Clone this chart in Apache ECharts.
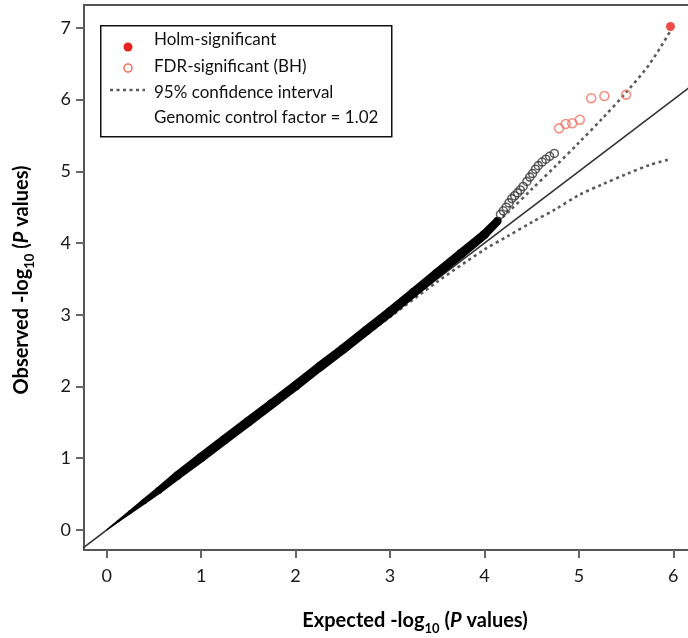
<!DOCTYPE html>
<html>
<head>
<meta charset="utf-8">
<script src="https://cdn.jsdelivr.net/npm/echarts@6/dist/echarts.min.js"></script>
<style>
  html, body { margin: 0; padding: 0; background: #fff; }
  #chart { width: 688px; height: 638px; }
</style>
</head>
<body>
<div id="chart"></div>
<script>
// Tick positions on both axes
const xTicks = [0, 1, 2, 3, 4, 5, 6];
const yTicks = [0, 1, 2, 3, 4, 5, 6, 7];

// Dense body of the QQ plot (expected vs observed -log10 P)
const bandExp = [0, 0.12, 0.25, 0.4, 0.55, 0.75, 1.0, 1.25, 1.5, 1.75, 2.0, 2.25, 2.5, 2.75, 3.0, 3.25, 3.5, 3.75, 4.0, 4.14];
const bandObs = [0, 0.12, 0.25, 0.4, 0.55, 0.76, 1.01, 1.26, 1.51, 1.76, 2.01, 2.27, 2.52, 2.78, 3.04, 3.31, 3.58, 3.85, 4.12, 4.31];

// Upper tail, plotted as individual open circles
const tailExp = [4.17, 4.20, 4.23, 4.26, 4.29, 4.32, 4.35, 4.38, 4.41, 4.45, 4.48, 4.51, 4.54, 4.57, 4.61, 4.65, 4.69, 4.74];
const tailObs = [4.40, 4.45, 4.50, 4.56, 4.62, 4.66, 4.70, 4.74, 4.79, 4.86, 4.92, 4.97, 5.03, 5.08, 5.13, 5.17, 5.21, 5.25];

// FDR-significant (Benjamini-Hochberg) hits
const fdrExp = [4.79, 4.86, 4.93, 5.01, 5.13, 5.27, 5.50];
const fdrObs = [5.60, 5.66, 5.67, 5.72, 6.02, 6.05, 6.07];

// Holm-significant hit
const holmExp = [5.97];
const holmObs = [7.02];

// 95% confidence band around the null expectation
const ciExp   = [2.0, 2.5, 3.0, 3.5, 4.0, 4.25, 4.5, 4.75, 5.0, 5.25, 5.5, 5.75, 5.97];
const ciUpper = [2.02, 2.53, 3.04, 3.58, 4.14, 4.43, 4.75, 5.07, 5.40, 5.74, 6.10, 6.50, 6.96];
const ciLower = [1.99, 2.48, 2.97, 3.46, 3.91, 4.10, 4.29, 4.47, 4.67, 4.82, 4.96, 5.09, 5.17];

// Identity line (observed = expected) across the plotting range
const identityExp = [-0.3, 6.3];
const identityObs = [-0.3, 6.3];

const pairs = (xs, ys) => xs.map((x, i) => [x, ys[i]]);

const FONT = 'Lato';
const AXIS_GRAY = '#555';

// Stroke width (px) of the overplotted band at each of its points: thin at the origin, widening outward
const bandWidthPx = [1, 2.5, 4, 5.5, 7, 8.5, 9.5, 9.5, 9.5, 9.5, 9.5, 9.5, 9.5, 9.5, 9.5, 9.5, 9.5, 9.5, 9, 8];

// Each segment of the band becomes a tapered quad with a round joint at its far end
function renderBandSegment(params, api) {
  const i = params.dataIndex;
  if (i >= bandExp.length - 1) return null;
  const p0 = api.coord([bandExp[i], bandObs[i]]);
  const p1 = api.coord([bandExp[i + 1], bandObs[i + 1]]);
  const dx = p1[0] - p0[0], dy = p1[1] - p0[1];
  const len = Math.hypot(dx, dy) || 1;
  const nx = -dy / len, ny = dx / len;
  const h0 = bandWidthPx[i] / 2, h1 = bandWidthPx[i + 1] / 2;
  return {
    type: 'group',
    children: [
      { type: 'polygon', shape: { points: [
          [p0[0] + nx * h0, p0[1] + ny * h0],
          [p1[0] + nx * h1, p1[1] + ny * h1],
          [p1[0] - nx * h1, p1[1] - ny * h1],
          [p0[0] - nx * h0, p0[1] - ny * h0]
        ] }, style: { fill: '#000' } },
      { type: 'circle', shape: { cx: p1[0], cy: p1[1], r: h1 }, style: { fill: '#000' } }
    ]
  };
}

const chart = echarts.init(document.getElementById('chart'), null, { renderer: 'canvas' });

const subRich = {
  a:   { fontFamily: FONT, fontSize: 20, fontWeight: 'bold', color: '#111', lineHeight: 28, verticalAlign: 'middle' },
  sub: { fontFamily: FONT, fontSize: 13, fontWeight: 'bold', color: '#111', lineHeight: 28, verticalAlign: 'bottom' },
  it:  { fontFamily: FONT, fontSize: 20, fontWeight: 'bold', fontStyle: 'italic', color: '#111', lineHeight: 28, verticalAlign: 'middle' }
};

chart.setOption({
  animation: false,
  backgroundColor: '#fff',
  grid: {
    left: 84, right: -8, top: 5, bottom: 88,
    show: true, borderColor: AXIS_GRAY, borderWidth: 2,
    containLabel: false, outerBoundsMode: 'none'
  },
  xAxis: {
    type: 'value', min: -0.24, max: 6.24,
    axisLine: { show: true, onZero: false, lineStyle: { color: AXIS_GRAY, width: 2 } },
    axisTick: { show: true, length: 8, customValues: xTicks, lineStyle: { color: '#666', width: 2 } },
    axisLabel: { customValues: xTicks, margin: 17, fontFamily: FONT, fontSize: 18, color: '#1a1a1a' },
    splitLine: { show: false }
  },
  yAxis: {
    type: 'value', min: -0.28, max: 7.32,
    axisLine: { show: true, onZero: false, lineStyle: { color: AXIS_GRAY, width: 2 } },
    axisTick: { show: true, length: 8, customValues: yTicks, lineStyle: { color: '#666', width: 2 } },
    axisLabel: { customValues: yTicks, margin: 13, fontFamily: FONT, fontSize: 18, color: '#1a1a1a' },
    splitLine: { show: false }
  },
  series: [
    {
      type: 'line', data: pairs(identityExp, identityObs), symbol: 'none', z: 2, silent: true,
      lineStyle: { color: '#333', width: 1.6 }
    },
    {
      type: 'line', data: pairs(ciExp, ciUpper), symbol: 'none', smooth: 0.3, z: 3, silent: true,
      lineStyle: { color: '#5a5a5a', width: 2.6, type: [3, 3.5] }
    },
    {
      type: 'line', data: pairs(ciExp, ciLower), symbol: 'none', smooth: 0.3, z: 3, silent: true,
      lineStyle: { color: '#5a5a5a', width: 2.6, type: [3, 3.5] }
    },
    {
      type: 'custom', data: pairs(bandExp, bandObs), renderItem: renderBandSegment,
      encode: { x: 0, y: 1 }, z: 4, silent: true, clip: true
    },
    {
      type: 'scatter', data: pairs(tailExp, tailObs), symbol: 'circle', symbolSize: 8, z: 5, silent: true,
      itemStyle: { color: 'rgba(255,255,255,0)', borderColor: '#3a3a3a', borderWidth: 1.6 }
    },
    {
      type: 'scatter', data: pairs(fdrExp, fdrObs), symbol: 'circle', symbolSize: 9, z: 6, silent: true,
      itemStyle: { color: 'rgba(255,255,255,0)', borderColor: '#ef7666', borderWidth: 1.6 }
    },
    {
      type: 'scatter', data: pairs(holmExp, holmObs), symbol: 'circle', symbolSize: 9, z: 6, silent: true,
      itemStyle: { color: '#e5221b', borderWidth: 0 }
    }
  ],
  graphic: [
    // legend box
    { type: 'rect', left: 100, top: 25, z: 20,
      shape: { width: 291, height: 111 },
      style: { fill: '#fff', stroke: '#111', lineWidth: 1.5 } },
    { type: 'circle', z: 21, shape: { cx: 128, cy: 47, r: 4.5 }, style: { fill: '#e5221b' } },
    { type: 'circle', z: 21, shape: { cx: 128, cy: 68, r: 4 }, style: { fill: '#fff', stroke: '#ef7666', lineWidth: 1.6 } },
    { type: 'line', z: 21, shape: { x1: 110, y1: 90, x2: 145, y2: 90 },
      style: { stroke: '#5a5a5a', lineWidth: 2.6, lineDash: [3, 3.5] } },
    { type: 'text', z: 21, x: 154, y: 40, style: { text: 'Holm-significant', font: '17px Lato', fill: '#111', verticalAlign: 'middle' } },
    { type: 'text', z: 21, x: 154, y: 67, style: { text: 'FDR-significant (BH)', font: '17px Lato', fill: '#111', verticalAlign: 'middle' } },
    { type: 'text', z: 21, x: 154, y: 93, style: { text: '95% confidence interval', font: '17px Lato', fill: '#111', verticalAlign: 'middle' } },
    { type: 'text', z: 21, x: 154, y: 118, style: { text: 'Genomic control factor = 1.02', font: '17px Lato', fill: '#111', verticalAlign: 'middle' } },
    // axis titles
    { type: 'text', z: 21, x: 415, y: 621,
      style: { text: '{a|Expected -log}{sub|10}{a| (}{it|P}{a| values)}', rich: subRich, align: 'center', verticalAlign: 'middle' } },
    { type: 'text', z: 21, x: 22, y: 280, rotation: Math.PI / 2,
      style: { text: '{a|Observed -log}{sub|10}{a| (}{it|P}{a| values)}', rich: subRich, align: 'center', verticalAlign: 'middle' } }
  ]
});
</script>
</body>
</html>
